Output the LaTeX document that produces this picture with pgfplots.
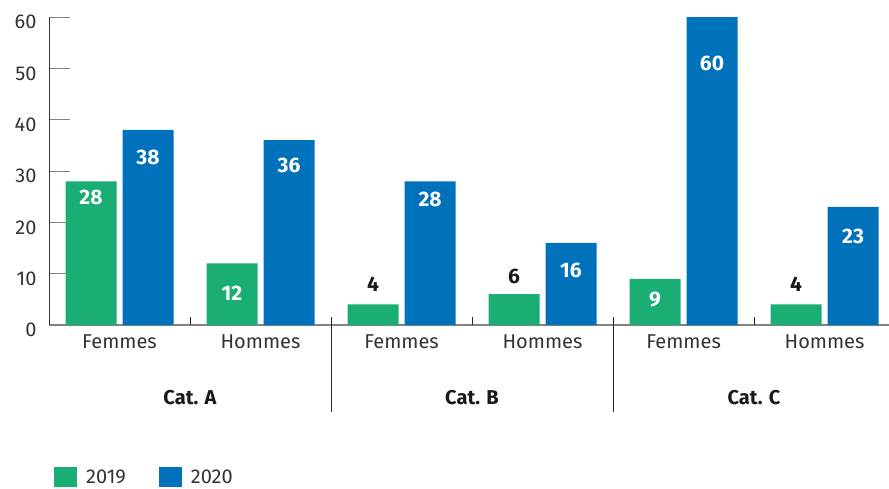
\documentclass[border=0pt]{standalone}
\usepackage{fontspec}
\setmainfont{Fira Sans}
\usepackage{pgfplots}
\pgfplotsset{compat=1.18}
\definecolor{cgreen}{RGB}{26,173,116}
\definecolor{cblue}{RGB}{0,113,187}
\definecolor{ctext}{RGB}{51,51,51}
\definecolor{caxis}{RGB}{130,130,130}
\newcommand\lbl{\fontsize{20bp}{22bp}\selectfont}
\newcommand\vlbl{\fontsize{21bp}{22bp}\selectfont\bfseries}
\newcommand\clbl{\fontsize{20bp}{22bp}\selectfont\bfseries}
\begin{document}
\begin{tikzpicture}
\useasboundingbox (-49bp,-164bp) rectangle (840bp,325bp);
\begin{axis}[
  at={(0,0)}, anchor=south west,
  scale only axis, width=840bp, height=308bp,
  xmin=-0.5, xmax=5.457, ymin=0, ymax=60,
  axis x line*=bottom, axis y line*=left,
  x axis line style={caxis, line width=1.6bp, -},
  y axis line style={ctext, line width=0.9bp, -},
  ytick={0,10,...,60},
  tick align=inside,
  major tick length=21bp,
  ytick style={caxis, line width=0.9bp},
  xtick={0,...,5},
  xticklabels={Femmes,Hommes,Femmes,Hommes,Femmes,Hommes},
  xtick style={draw=none},
  /pgf/number format/assume math mode=true,
  tick label style={font=\lbl, text=ctext},
  yticklabel style={yshift=-5bp, xshift=-9bp},
  xticklabel style={yshift=-6bp},
  clip=false,
  legend style={at={(0,0)}, anchor=north west, xshift=5bp, yshift=-142bp,
    draw=none, fill=none, inner sep=0pt, font=\lbl, text=ctext,
    legend columns=2,
    /tikz/every even column/.append style={column sep=31bp}},
  legend image code/.code={\fill[#1] (0bp,-10bp) rectangle (23bp,10bp); \path (30bp,0bp);},
  nodes near coords style={font=\vlbl, anchor=center},
]
\addplot[ybar, bar width=51bp, bar shift=-28.5bp, fill=cgreen, draw=none]
  coordinates {(0,28) (1,12) (2,4) (3,6) (4,9) (5,4)};
\addlegendentry{2019}
\addplot[ybar, bar width=51bp, bar shift=28.5bp, fill=cblue, draw=none]
  coordinates {(0,38) (1,36) (2,28) (3,16) (4,60) (5,23)};
\addlegendentry{2020}
% value labels
\addplot[only marks, mark=none, point meta=explicit symbolic, nodes near coords,
  every node near coord/.append style={xshift=-28.5bp, text=white}, forget plot]
  coordinates {(0,24.9) [28] (1,6.1) [12] (4,4.9) [9]};
\addplot[only marks, mark=none, point meta=explicit symbolic, nodes near coords,
  every node near coord/.append style={xshift=-28.5bp, text=black!90}, forget plot]
  coordinates {(2,7.9) [4] (3,9.4) [6] (5,7.9) [4]};
\addplot[only marks, mark=none, point meta=explicit symbolic, nodes near coords,
  every node near coord/.append style={xshift=28.5bp, text=white}, forget plot]
  coordinates {(0,32.7) [38] (1,31.1) [36] (2,24.5) [28] (3,10.6) [16] (4,51.0) [60] (5,17.3) [23]};
% separators
\draw[black!85, line width=0.9bp] ([yshift=8bp]axis cs:1.5,0) -- ([yshift=-87bp]axis cs:1.5,0);
\draw[black!85, line width=0.9bp] ([yshift=8bp]axis cs:3.5,0) -- ([yshift=-87bp]axis cs:3.5,0);
\draw[black!85, line width=0.9bp] ([yshift=8bp]axis cs:0.5,0) -- (axis cs:0.5,0);
\draw[black!85, line width=0.9bp] ([yshift=8bp]axis cs:2.5,0) -- (axis cs:2.5,0);
\draw[black!85, line width=0.9bp] ([yshift=8bp]axis cs:4.5,0) -- (axis cs:4.5,0);
\node[font=\clbl, text=black!90, yshift=-73bp] at (axis cs:0.5,0) {Cat. A};
\node[font=\clbl, text=black!90, yshift=-73bp] at (axis cs:2.5,0) {Cat. B};
\node[font=\clbl, text=black!90, yshift=-73bp] at (axis cs:4.5,0) {Cat. C};
\end{axis}
\end{tikzpicture}
\end{document}
